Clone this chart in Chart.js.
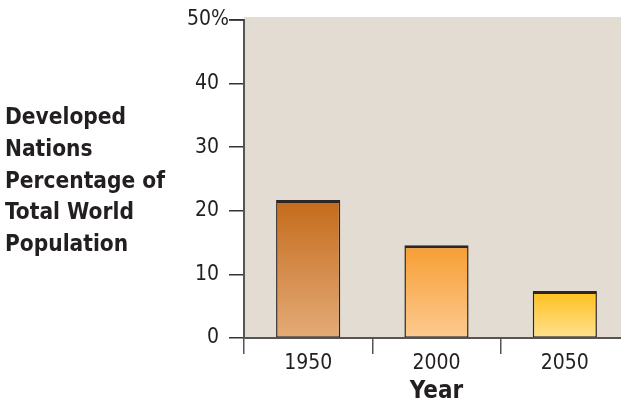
<!DOCTYPE html>
<html>
<head>
<meta charset="utf-8">
<script src="https://cdn.jsdelivr.net/npm/chart.js@4/dist/chart.umd.min.js"></script>
<style>
  html, body { margin: 0; padding: 0; background: #fff; overflow: hidden; }
  #wrap { width: 630px; height: 416px; }
</style>
</head>
<body>
<div id="wrap"><canvas id="chart" width="630" height="416"></canvas></div>
<script>
// data
const years = ['1950', '2000', '2050'];
const shares = [21.7, 14.6, 7.4]; // developed nations, % of world population
const yTicks = [0, 10, 20, 30, 40, 50];
const yLabelLines = ['Developed', 'Nations', 'Percentage of', 'Total World', 'Population'];
const xTitle = 'Year';

const barTop = ['#c46b1b', '#f69e32', '#fec01c'];
const barBottom = ['#e4ab78', '#fdca90', '#ffe18f'];

const FONT = "'Liberation Sans Narrow', 'DejaVu Sans Condensed', sans-serif";
const INK = '#231f20';
const yMax = yTicks[yTicks.length - 1];

// plot background + y label + top tick with % sign
const extras = {
  id: 'extras',
  beforeDraw(chart) {
    const { ctx, chartArea } = chart;
    ctx.save();
    ctx.fillStyle = '#e2dcd3';
    ctx.fillRect(chartArea.left, chartArea.top - 3, chart.width - chartArea.left, chartArea.bottom - chartArea.top + 3);
    ctx.restore();
  },
  afterDraw(chart) {
    const { ctx } = chart;
    ctx.save();
    ctx.fillStyle = INK;
    ctx.font = 'bold 22.5px ' + FONT;
    ctx.textBaseline = 'alphabetic';
    yLabelLines.forEach((line, i) => ctx.fillText(line, 5, 124 + i * 31.8));
    // top tick label carries the % sign, it sits a bit further right
    const y = chart.scales.y;
    const top = y.getPixelForValue(yMax);
    ctx.font = '21px ' + FONT;
    ctx.textBaseline = 'middle';
    ctx.textAlign = 'right';
    ctx.fillText(yMax + '%', 229, top);
    // its tick mark
    ctx.strokeStyle = '#333';
    ctx.lineWidth = 1.5;
    ctx.beginPath();
    ctx.moveTo(y.right - 15, top);
    ctx.lineTo(y.right, top);
    ctx.stroke();
    ctx.restore();
  }
};

function barGradient(context) {
  const chart = context.chart;
  const i = context.dataIndex;
  if (!chart.chartArea) return barTop[i];
  const y = chart.scales.y;
  const g = chart.ctx.createLinearGradient(0, y.getPixelForValue(shares[i]), 0, y.getPixelForValue(0));
  g.addColorStop(0, barTop[i]);
  g.addColorStop(1, barBottom[i]);
  return g;
}

new Chart(document.getElementById('chart'), {
  type: 'bar',
  data: {
    labels: years,
    datasets: [{
      data: shares,
      backgroundColor: barGradient,
      borderColor: '#2e2626',
      borderWidth: { top: 3, left: 1.5, right: 1.5, bottom: 1 },
      borderSkipped: false,
      barPercentage: 0.5,
      categoryPercentage: 1
    }]
  },
  plugins: [extras],
  options: {
    responsive: false,
    animation: false,
    events: [],
    layout: { padding: { top: 20, right: 1, left: 0, bottom: 0 } },
    plugins: { legend: { display: false }, tooltip: { enabled: false }, title: { display: false } },
    scales: {
      x: {
        afterFit(scale) {
          scale.height = 78;
          scale.paddingLeft = 0;
          scale.paddingRight = 0;
        },
        grid: {
          drawOnChartArea: false,
          drawTicks: true,
          tickLength: 16,
          color: '#555',
          lineWidth: 1.5
        },
        border: { display: true, color: '#555', width: 2 },
        ticks: { color: INK, font: { family: FONT, size: 21 }, padding: -3 },
        title: {
          display: true,
          text: xTitle,
          color: INK,
          font: { family: FONT, size: 24, weight: 'bold' },
          padding: { top: 0, bottom: 10 }
        }
      },
      y: {
        min: 0,
        max: yMax,
        afterFit(scale) {
          scale.width = 244;
          scale.paddingTop = 0;
          scale.paddingBottom = 0;
        },
        afterBuildTicks(scale) { scale.ticks = yTicks.map(v => ({ value: v })); },
        grid: {
          drawOnChartArea: false,
          drawTicks: true,
          tickLength: 15,
          color: '#333',
          lineWidth: 1.5
        },
        border: { display: true, color: '#555', width: 2 },
        ticks: {
          color: INK,
          font: { family: FONT, size: 21 },
          padding: 10,
          callback: v => (v === yMax ? '' : v)
        }
      }
    }
  }
});
</script>
</body>
</html>
